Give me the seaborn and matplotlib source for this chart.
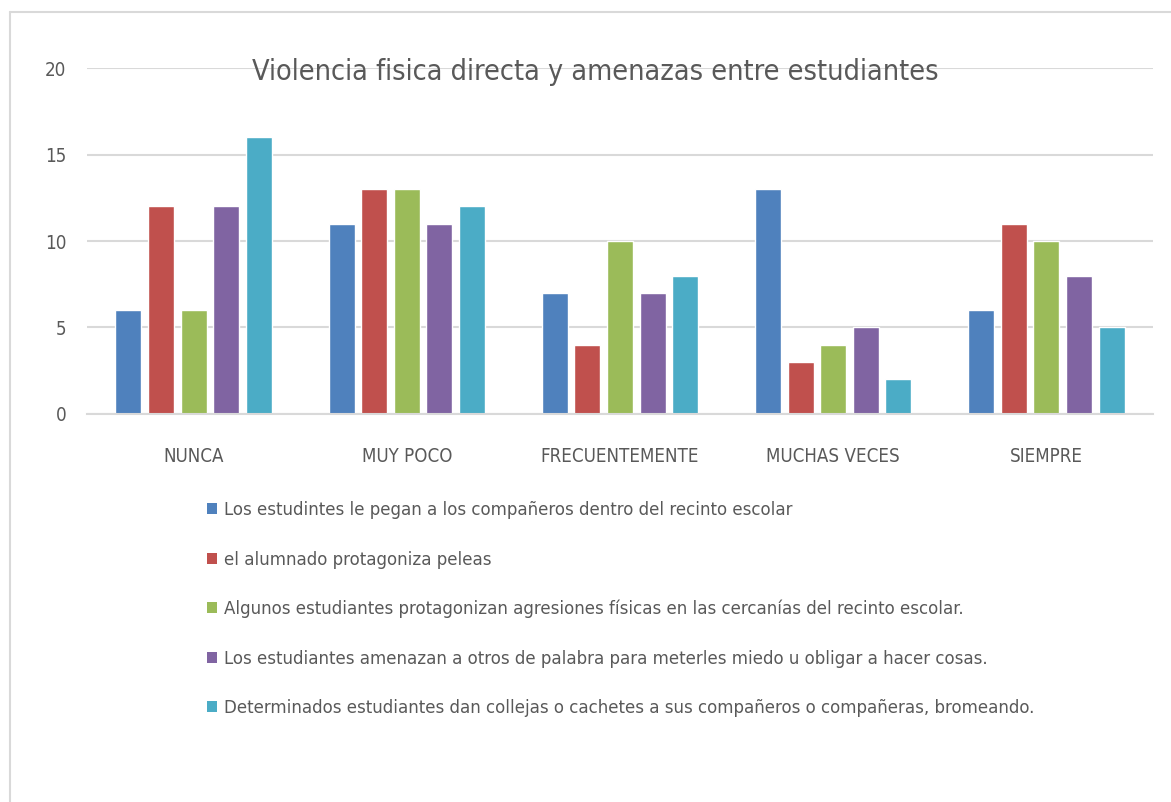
import matplotlib
matplotlib.use('Agg')
import matplotlib.pyplot as plt
from matplotlib import font_manager
from matplotlib.patches import Patch
from matplotlib.lines import Line2D
import seaborn as sns
import pandas as pd

# Data
categorias = ['NUNCA', 'MUY POCO', 'FRECUENTEMENTE', 'MUCHAS VECES', 'SIEMPRE']
series = [
    'Los estudintes le pegan a los compañeros dentro del recinto escolar',
    'el alumnado protagoniza peleas',
    'Algunos estudiantes protagonizan agresiones físicas en las cercanías del recinto escolar.',
    'Los estudiantes amenazan a otros de palabra para meterles miedo u obligar a hacer cosas.',
    'Determinados estudiantes dan collejas o cachetes a sus compañeros o compañeras, bromeando.',
]
pegan = [6, 11, 7, 13, 6]
peleas = [12, 13, 4, 3, 11]
agresiones = [6, 13, 10, 4, 10]
amenazan = [12, 11, 7, 5, 8]
collejas = [16, 12, 8, 2, 5]
colores = ['#4F81BD', '#C0504D', '#9BBB59', '#8064A2', '#4BACC6']

# long format for seaborn
rows = []
for serie, vals in zip(series, [pegan, peleas, agresiones, amenazan, collejas]):
    for cat, v in zip(categorias, vals):
        rows.append({'categoria': cat, 'serie': serie, 'valor': v})
df = pd.DataFrame(rows)

sns.set_style('white')
plt.rcParams['font.family'] = ['DejaVu Sans']

# the original text is very narrow, use the condensed DejaVu if it is there
f = font_manager.findfont(font_manager.FontProperties(family='DejaVu Sans', stretch='condensed'))
k = 1.0
if 'Condensed' in f:
    plt.rcParams['font.stretch'] = 'condensed'
    k = 1.1

gris = '#595959'

fig = plt.figure(figsize=(11.71, 8.02), dpi=100)
ax = fig.add_axes([0.0743, 0.4838, 0.9103, 0.4314])

sns.barplot(data=df, x='categoria', y='valor', hue='serie', order=categorias,
            hue_order=series, palette=colores, width=0.765, saturation=1,
            legend=False, ax=ax)

# little gap between bars, like Excel
for p in ax.patches:
    w = p.get_width()
    p.set_x(p.get_x() + w * 0.1)
    p.set_width(w * 0.8)

ax.set_ylim(0, 20)
ax.set_xlim(-0.5, 4.5)
ax.set_yticks([0, 5, 10, 15, 20])
ax.yaxis.grid(True, color='#d9d9d9', linewidth=1.5)
ax.set_axisbelow(True)
for s in ['left', 'right', 'top']:
    ax.spines[s].set_visible(False)
ax.spines['bottom'].set_color('#d9d9d9')
ax.spines['bottom'].set_linewidth(1.5)
ax.tick_params(axis='y', length=0, pad=15, labelsize=12.3 * k, labelcolor=gris)
ax.tick_params(axis='x', length=0, pad=24, labelsize=12.2 * k, labelcolor=gris)
ax.set_xlabel('')
ax.set_ylabel('')

fig.text(0.508, 0.91, 'Violencia fisica directa y amenazas entre estudiantes',
         ha='center', va='center', fontsize=18.75 * k, color=gris)

# legend under the chart
fs = 12.08 * k
fs_px = fs * 100 / 72
handles = [Patch(facecolor=c, edgecolor='none') for c in colores]
fig.legend(handles, series, loc='upper left', bbox_to_anchor=(0.177, 0.375),
           frameon=False, fontsize=fs, labelcolor=gris, handlelength=10 / fs_px,
           handleheight=10 / fs_px, handletextpad=7 / fs_px,
           labelspacing=49 / fs_px - 0.955, borderaxespad=0, borderpad=0)

# light frame around the chart area
fig.add_artist(Line2D([10 / 1171, 10 / 1171], [0, 1 - 12 / 802], color='#d9d9d9', lw=1.5))
fig.add_artist(Line2D([10 / 1171, 1], [1 - 12 / 802, 1 - 12 / 802], color='#d9d9d9', lw=1.5))

fig.savefig('out.png', dpi=100)
